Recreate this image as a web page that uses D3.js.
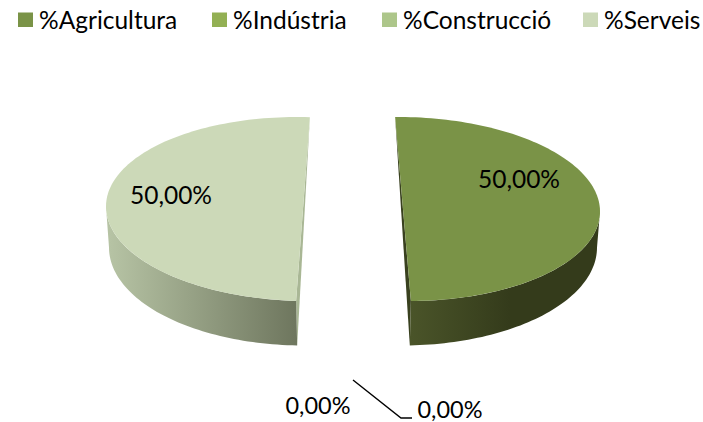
<!DOCTYPE html>
<html><head><meta charset="utf-8">
<script src="https://cdn.jsdelivr.net/npm/d3@7"></script>
<style>html,body{margin:0;background:#fff}svg{display:block}text{font-family:Lato,sans-serif;fill:#000}</style>
</head><body><svg id="c" width="703" height="422"></svg>
<script>
const categories = ["%Agricultura","%Indústria","%Construcció","%Serveis"];
const shares = [50,0,0,50];
const topColors = ["#7a9347","#93b054","#adc68a","#ccd9b8"];

const svg = d3.select("#c");
const loc = d3.formatLocale({decimal:",",thousands:".",grouping:[3],currency:["",""],percent:"%"});
const fmt = v => loc.format(".2f")(v) + "%";
const color = d3.scaleOrdinal(categories, topColors);

// legend
const legendX = [18,212,382,583];
const leg = svg.selectAll("g.l").data(categories).join("g").attr("transform",(d,i)=>`translate(${legendX[i]},0)`);
leg.append("rect").attr("y",12.5).attr("width",15).attr("height",14.5).attr("fill",d=>color(d));
leg.append("text").attr("x",21).attr("y",29).attr("font-size",24.5).text(d=>d);

// 3D pie
const pie = d3.pie().sort(null).value(d=>d.v)(categories.map((c,i)=>({c,v:shares[i]})));
const defs = svg.append("defs");
const gradStops = {
  "%Agricultura":{x1:411,x2:510,a:"#4a5429",b:"#343b1b"},
  "%Serveis":{x1:110,x2:297,a:"#b6c3a4",b:"#6e765e"}
};
const sideColor = {"%Agricultura":"#39411f","%Serveis":"#a9b795"};
const rx=197, ry=92, rxLow=195, ryLow=98, cy=209, cyLow=247.5, shear=2.5;
const big = pie.filter(d=>d.value>0);
big.forEach((d,idx)=>{
  const name=d.data.c, right=Math.sin((d.startAngle+d.endAngle)/2)>0;
  const cx = right?403:303;
  const cxLow = right?402:304;
  const rot = right?-0.04:0.035;
  const X = d3.scaleLinear([-1,1],[cx-rx,cx+rx]);
  const XL = d3.scaleLinear([-1,1],[cxLow-rxLow,cxLow+rxLow]);
  const Y = d3.scaleLinear([-1,1],[cy+ry,cy-ry]);
  const YL = d3.scaleLinear([-1,1],[cyLow+ryLow,cyLow-ryLow]);
  const a0=d.startAngle+rot, a1=d.endAngle+rot;
  const up=a=>[X(Math.sin(a)),Y(Math.cos(a))+shear*Math.sin(a)];
  const lo=a=>[XL(Math.sin(a)),YL(Math.cos(a))];
  const line=d3.line();
  const g=svg.append("g");
  // cut face
  const cut = right ? [up(a0),up(a1),lo(a1)] : [up(a1),up(a0),lo(a0)];
  g.append("path").attr("d",line(cut)+"Z").attr("fill",sideColor[name]);
  // outer wall
  const s=gradStops[name];
  const id="w"+idx;
  const gr=defs.append("linearGradient").attr("id",id).attr("gradientUnits","userSpaceOnUse")
    .attr("x1",s.x1).attr("x2",s.x2).attr("y1",0).attr("y2",0);
  gr.append("stop").attr("offset",0).attr("stop-color",s.a);
  gr.append("stop").attr("offset",1).attr("stop-color",s.b);
  const w0=right?Math.PI/2:a0, w1=right?a1:Math.PI*1.5;
  const ts=d3.range(0,61).map(i=>w0+(w1-w0)*i/60);
  g.append("path").attr("d",line(ts.map(up).concat(ts.slice().reverse().map(lo)))+"Z").attr("fill",`url(#${id})`);
  // top face
  const tt=d3.range(0,121).map(i=>a0+(a1-a0)*i/120);
  g.append("path").attr("d",line(tt.map(up))+"Z").attr("fill",color(name));
});

// value labels
const labelPos = {"%Agricultura":[519,188],"%Serveis":[171,204]};
big.forEach(d=>{
  const p=labelPos[d.data.c];
  svg.append("text").attr("x",p[0]).attr("y",p[1]).attr("text-anchor","middle").attr("font-size",24.5).text(fmt(d.value));
});
const zeros = pie.filter(d=>d.value===0);
const zeroPos = [[318,414],[450,418]];
zeros.forEach((d,i)=>{
  svg.append("text").attr("x",zeroPos[i][0]).attr("y",zeroPos[i][1]).attr("text-anchor","middle").attr("font-size",23.5).text(fmt(d.value));
});
svg.append("path").attr("d",d3.line()([[353,380],[401,418],[412,418]])).attr("fill","none").attr("stroke","#000").attr("stroke-width",1.4);
</script></body></html>
